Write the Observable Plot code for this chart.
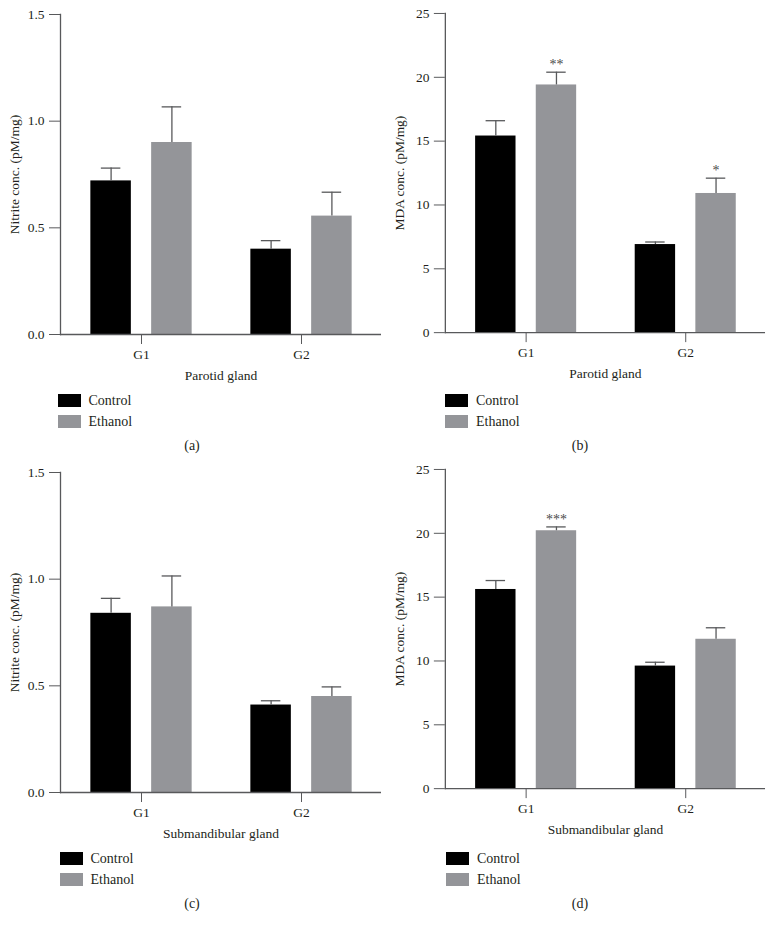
<!DOCTYPE html>
<html><head><meta charset="utf-8">
<script src="https://cdn.jsdelivr.net/npm/d3@7"></script>
<script src="https://cdn.jsdelivr.net/npm/@observablehq/plot@0.6"></script>
<style>
body{margin:0;background:#fff;width:774px;height:930px;position:relative;overflow:hidden;font-family:"Liberation Serif","DejaVu Serif",serif;color:#231f20}
.panel{position:absolute}
.legend{position:absolute;font-size:14px;line-height:13px}
.legend .row{display:flex;align-items:center;height:13px;margin-bottom:8px}
.legend .sw{width:23px;height:13px;margin-right:8px}
.cap{position:absolute;font-size:14px;transform:translate(-50%,-50%);white-space:nowrap}
</style></head><body>
<script>
// Shared categories
const groups = ["G1", "G2"];
const seriesNames = ["Control", "Ethanol"];
const seriesColors = ["#000000", "#949599"];

// (a) Nitrite, parotid gland
const nitriteParotidControl = [0.72, 0.40];
const nitriteParotidControlErr = [0.06, 0.04];
const nitriteParotidEthanol = [0.90, 0.555];
const nitriteParotidEthanolErr = [0.167, 0.112];
const nitriteParotidStars = ["", ""];

// (b) MDA, parotid gland
const mdaParotidControl = [15.4, 6.9];
const mdaParotidControlErr = [1.2, 0.2];
const mdaParotidEthanol = [19.4, 10.9];
const mdaParotidEthanolErr = [1.0, 1.2];
const mdaParotidStars = ["**", "*"];

// (c) Nitrite, submandibular gland
const nitriteSubControl = [0.84, 0.41];
const nitriteSubControlErr = [0.07, 0.02];
const nitriteSubEthanol = [0.87, 0.45];
const nitriteSubEthanolErr = [0.145, 0.045];
const nitriteSubStars = ["", ""];

// (d) MDA, submandibular gland
const mdaSubControl = [15.6, 9.6];
const mdaSubControlErr = [0.7, 0.3];
const mdaSubEthanol = [20.2, 11.7];
const mdaSubEthanolErr = [0.3, 0.9];
const mdaSubStars = ["***", ""];

// axis tick labels
const nitriteTicks = [0, 0.5, 1.0, 1.5];
const mdaTicks = [0, 5, 10, 15, 20, 25];

const AXIS = "#58595b", TEXT = "#231f20";

function panel(cfg) {
  const rows = groups.flatMap((g, i) => [
    {group: g, series: "Control", value: cfg.control[i], hi: cfg.control[i] + cfg.controlErr[i], star: ""},
    {group: g, series: "Ethanol", value: cfg.ethanol[i], hi: cfg.ethanol[i] + cfg.ethanolErr[i], star: cfg.stars[i]}
  ]);
  const ctrl = rows.filter(d => d.series === "Control");
  const eth = rows.filter(d => d.series === "Ethanol");
  const off = 30.4;
  return Plot.plot({
    width: 390, height: 390,
    marginLeft: 60, marginRight: 9, marginTop: 14, marginBottom: 56,
    style: {fontFamily: "'Liberation Serif', serif", fontSize: "13.5px", color: TEXT, background: "transparent", overflow: "visible"},
    x: {domain: groups, padding: 0, axis: null},
    y: {domain: cfg.yDomain, axis: null},
    color: {domain: seriesNames, range: seriesColors},
    marks: [
      Plot.barY(ctrl, {x: "group", y: "value", fill: "series", insetLeft: 80.25 - off - 20.5, insetRight: 80.25 + off - 20.5}),
      Plot.barY(eth, {x: "group", y: "value", fill: "series", insetLeft: 80.25 + off - 20.5, insetRight: 80.25 - off - 20.5}),
      Plot.ruleX(ctrl, {x: "group", y1: "value", y2: "hi", dx: -off, stroke: AXIS, strokeWidth: 1.3}),
      Plot.ruleX(eth, {x: "group", y1: "value", y2: "hi", dx: off, stroke: AXIS, strokeWidth: 1.3}),
      Plot.tickY(ctrl, {x: "group", y: "hi", stroke: AXIS, strokeWidth: 1.3, insetLeft: 80.25 - off - 10, insetRight: 80.25 + off - 10}),
      Plot.tickY(eth, {x: "group", y: "hi", stroke: AXIS, strokeWidth: 1.3, insetLeft: 80.25 + off - 10, insetRight: 80.25 - off - 10}),
      Plot.text(eth, {x: "group", y: "hi", text: "star", dx: off, dy: -3, lineAnchor: "bottom", fill: "#4a4a4a", fontSize: 14}),
      Plot.frame({anchor: "left", stroke: AXIS, strokeWidth: 1.3}),
      Plot.ruleY([cfg.yDomain[0]], {stroke: AXIS, strokeWidth: 1.3}),
      Plot.axisY({ticks: cfg.yTicks, tickFormat: cfg.yFormat, tickSize: 11, tickPadding: 5, stroke: AXIS, fill: TEXT,
        label: cfg.yLabel, labelAnchor: "center", labelOffset: 51, labelArrow: "none", fontSize: 13.5}),
      Plot.axisX({tickSize: 10, tickPadding: 5, stroke: AXIS, fill: TEXT,
        label: cfg.xLabel, labelAnchor: "center", labelOffset: 45, labelArrow: "none", fontSize: 13.5})
    ]
  });
}

function place(node, left, top) {
  const d = document.createElement("div");
  d.className = "panel";
  d.style.left = left + "px"; d.style.top = top + "px";
  d.appendChild(node);
  document.body.appendChild(d);
}
function legend(left, top) {
  const d = document.createElement("div");
  d.className = "legend";
  d.style.left = left + "px"; d.style.top = top + "px";
  seriesNames.forEach((s, i) => {
    const r = document.createElement("div"); r.className = "row";
    const sw = document.createElement("div"); sw.className = "sw"; sw.style.background = seriesColors[i];
    const t = document.createElement("span"); t.textContent = s;
    r.appendChild(sw); r.appendChild(t); d.appendChild(r);
  });
  document.body.appendChild(d);
}
function caption(text, x, y) {
  const d = document.createElement("div");
  d.className = "cap"; d.textContent = text;
  d.style.left = x + "px"; d.style.top = y + "px";
  document.body.appendChild(d);
}

place(panel({control: nitriteParotidControl, controlErr: nitriteParotidControlErr, ethanol: nitriteParotidEthanol, ethanolErr: nitriteParotidEthanolErr,
  stars: nitriteParotidStars, yDomain: [0, 1.5], yTicks: nitriteTicks, yFormat: ".1f", yLabel: "Nitrite conc. (pM/mg)", xLabel: "Parotid gland"}), 0, 0);
place(panel({control: mdaParotidControl, controlErr: mdaParotidControlErr, ethanol: mdaParotidEthanol, ethanolErr: mdaParotidEthanolErr,
  stars: mdaParotidStars, yDomain: [0, 25], yTicks: mdaTicks, yFormat: "d", yLabel: "MDA conc. (pM/mg)", xLabel: "Parotid gland"}), 385, -1);
place(panel({control: nitriteSubControl, controlErr: nitriteSubControlErr, ethanol: nitriteSubEthanol, ethanolErr: nitriteSubEthanolErr,
  stars: nitriteSubStars, yDomain: [0, 1.5], yTicks: nitriteTicks, yFormat: ".1f", yLabel: "Nitrite conc. (pM/mg)", xLabel: "Submandibular gland"}), 0, 458);
place(panel({control: mdaSubControl, controlErr: mdaSubControlErr, ethanol: mdaSubEthanol, ethanolErr: mdaSubEthanolErr,
  stars: mdaSubStars, yDomain: [0, 25], yTicks: mdaTicks, yFormat: "d", yLabel: "MDA conc. (pM/mg)", xLabel: "Submandibular gland"}), 385, 455);

legend(57.5, 394); legend(445, 394); legend(59.5, 852); legend(446, 852);
caption("(a)", 192, 446); caption("(b)", 580, 446); caption("(c)", 192, 904); caption("(d)", 580, 904);
</script>
</body></html>
